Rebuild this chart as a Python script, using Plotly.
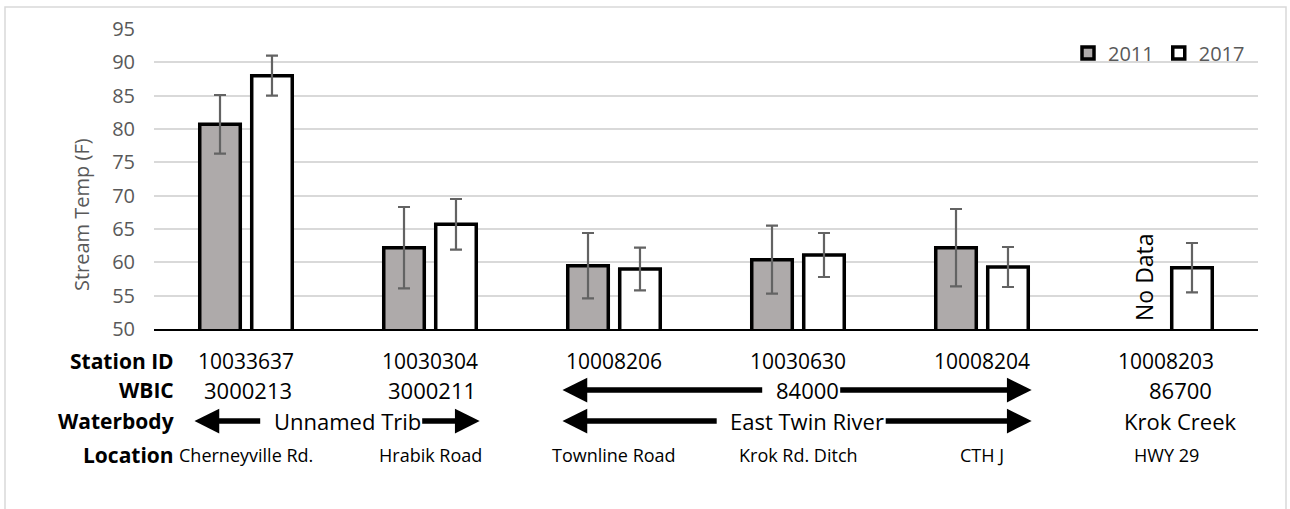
import plotly.graph_objects as go

# ---- data -------------------------------------------------------------
stations = ["10033637", "10030304", "10008206", "10030630", "10008204", "10008203"]
location = ["Cherneyville Rd.", "Hrabik Road", "Townline Road", "Krok Rd. Ditch",
            "CTH J", "HWY 29"]
temp_2011 = [80.7, 62.2, 59.5, 60.4, 62.2, None]
err_2011 = [4.4, 6.1, 4.9, 5.1, 5.8, None]
temp_2017 = [88.0, 65.7, 59.0, 61.1, 59.3, 59.2]
err_2017 = [3.0, 3.8, 3.2, 3.3, 3.0, 3.7]

wbic = ["3000213", "3000211", "84000", "84000", "84000", "86700"]
waterbody = ["Unnamed Trib", "Unnamed Trib", "East Twin River", "East Twin River",
             "East Twin River", "Krok Creek"]
row_labels = ["Station ID", "WBIC", "Waterbody", "Location"]
y_ticks = list(range(50, 100, 5))

# ---- layout geometry ----------------------------------------------------
W, H = 1290, 509
ML, MR, MT, MB = 154, 32, 29, 180
PW, PH = W - ML - MR, H - MT - MB
FONT = "Open Sans, Noto Sans, sans-serif"
GREY_TXT = "#595959"


def px_x(p):
    return (p - ML) / PW


def px_y(p):
    return (H - MB - p) / PH


fig = go.Figure()
fig.add_trace(go.Bar(
    name="2011", x=location, y=temp_2011,
    marker=dict(color="#AEAAAA", line=dict(color="black", width=3.5)),
    error_y=dict(type="data", array=err_2011, color="#636363", thickness=2.2, width=6),
))
fig.add_trace(go.Bar(
    name="2017", x=location, y=temp_2017,
    marker=dict(color="white", line=dict(color="black", width=3.5)),
    error_y=dict(type="data", array=err_2017, color="#636363", thickness=2.2, width=6),
))

annotations = []
shapes = []

# y-axis title
annotations.append(dict(
    xref="paper", yref="paper", x=px_x(81), y=px_y(215), xanchor="center", yanchor="middle",
    text="Stream Temp (F)", textangle=-90, showarrow=False,
    font=dict(family=FONT, size=20, color=GREY_TXT),
))

# missing 2011 measurement at the last station
annotations.append(dict(
    xref="x", yref="paper", x=5, xshift=-22, y=px_y(277), xanchor="center", yanchor="middle",
    text="No Data", textangle=-90, showarrow=False,
    font=dict(family=FONT, size=23, color="black"),
))

# table rows under the axis
row_y = [px_y(361), px_y(390), px_y(421), px_y(455)]
row_fonts = [21, 22, 22, 18]

for lbl, yy in zip(row_labels, row_y):
    annotations.append(dict(
        xref="paper", yref="paper", x=px_x(176), y=yy, xanchor="right", yanchor="middle",
        text="<b>%s</b>" % lbl, showarrow=False,
        font=dict(family=FONT, size=21, color="black"),
    ))

for i, sid in enumerate(stations):
    annotations.append(dict(
        xref="x", yref="paper", x=i, y=row_y[0], xanchor="center", yanchor="middle",
        text=sid, showarrow=False,
        font=dict(family=FONT, size=row_fonts[0], color="black"),
    ))

for i, loc in enumerate(location):
    annotations.append(dict(
        xref="x", yref="paper", x=i, y=row_y[3], xanchor="center", yanchor="middle",
        text=loc, showarrow=False,
        font=dict(family="Liberation Sans Narrow, " + FONT, size=row_fonts[3], color="black"),
    ))


def span_rows(values, yy, size):
    """Label runs of equal values; runs across several stations get arrows."""
    i = 0
    n = len(values)
    while i < n:
        j = i
        while j + 1 < n and values[j + 1] == values[i]:
            j += 1
        font = dict(family=FONT, size=size, color="black")
        if i == j:
            annotations.append(dict(
                xref="x", yref="paper", x=i, y=yy, xanchor="center", yanchor="middle",
                text=values[i], showarrow=False,
                xshift=14 if i == n - 1 else 2, font=font,
            ))
        else:
            centre = (i + j) / 2 + 0.05
            common = dict(xref="x", yref="paper", y=yy, axref="x", ax=centre, ay=0,
                          showarrow=True, arrowhead=2, arrowsize=0.9, arrowwidth=5.5,
                          arrowcolor="black")
            annotations.append(dict(common, x=j + 0.27, text=values[i], font=font))
            annotations.append(dict(common, x=i - 0.28, text=values[i], startstandoff=12,
                                    font=dict(font, color="rgba(0,0,0,0)")))
        i = j + 1


span_rows(wbic, row_y[1], row_fonts[1])
span_rows(waterbody, row_y[2], row_fonts[2])

# chart frame
shapes.append(dict(
    type="rect", xref="paper", yref="paper", x0=px_x(5), x1=px_x(1286),
    y0=px_y(7), y1=px_y(530), line=dict(color="#D9D9D9", width=1.5), layer="below",
))

fig.update_layout(
    width=W, height=H,
    margin=dict(l=ML, r=MR, t=MT, b=MB, pad=0),
    paper_bgcolor="white", plot_bgcolor="white",
    barmode="group", bargap=0.435, bargroupgap=0.22,
    font=dict(family=FONT, color=GREY_TXT),
    legend=dict(
        orientation="h", x=px_x(1250), xanchor="right", y=px_y(53), yanchor="middle",
        font=dict(family=FONT, size=20, color=GREY_TXT), bgcolor="rgba(0,0,0,0)",
        traceorder="normal", itemclick=False,
    ),
    xaxis=dict(
        type="category", range=[-0.5, len(location) - 0.5], showticklabels=False, ticks="",
        showgrid=False, showline=True, linecolor="black", linewidth=1.6, zeroline=False,
    ),
    yaxis=dict(
        range=[50, 95], tickvals=y_ticks, showgrid=True, gridcolor="#D9D9D9", gridwidth=1.6,
        zeroline=False, showline=False, ticks="", ticklabelstandoff=18,
        tickfont=dict(family=FONT, size=20, color=GREY_TXT),
    ),
    annotations=annotations,
    shapes=shapes,
    showlegend=True,
)

fig.write_html("out.html")
